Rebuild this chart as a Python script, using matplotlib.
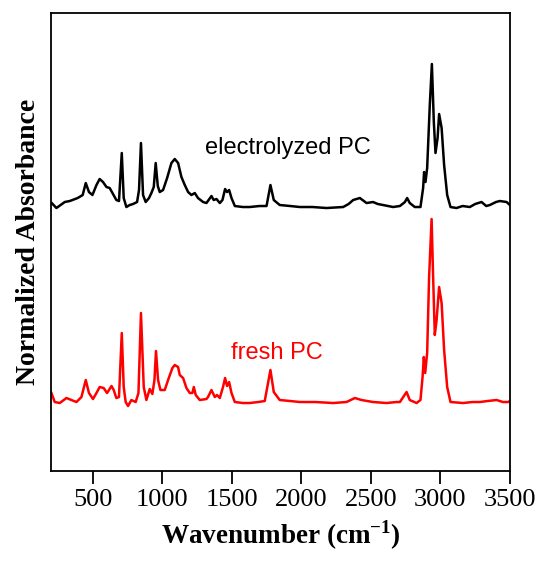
import matplotlib
matplotlib.use("Agg")
import matplotlib.pyplot as plt

# electrolyzed PC (black)
wn_el = [205, 239, 299, 335, 392, 428, 450, 473, 498, 527, 550, 574, 599, 622, 642,
         670, 689, 709, 723, 742, 766, 790, 819, 833, 847, 862, 881, 905, 922, 939,
         953, 968, 982, 1006, 1035, 1066, 1090, 1114, 1138, 1162, 1186, 1210, 1234,
         1257, 1294, 1318, 1354, 1370, 1390, 1414, 1433, 1452, 1466, 1481, 1498, 1522,
         1580, 1629, 1700, 1750, 1778, 1802, 1845, 1920, 1989, 2080, 2181, 2301, 2340,
         2373, 2421, 2469, 2516, 2550, 2588, 2660, 2709, 2745, 2761, 2780, 2816, 2857,
         2876, 2883, 2893, 2905, 2924, 2939, 2953, 2965, 2980, 2991, 3009, 3027, 3049,
         3073, 3116, 3160, 3212, 3250, 3296, 3330, 3356, 3400, 3428, 3476, 3500]
ab_el = [2.68, 2.63, 2.69, 2.70, 2.73, 2.76, 2.88, 2.79, 2.76, 2.86, 2.92, 2.89, 2.84, 2.83, 2.78,
         2.71, 2.70, 3.18, 2.73, 2.64, 2.66, 2.67, 2.69, 2.81, 3.28, 2.76, 2.69, 2.73, 2.78, 2.84,
         3.08, 2.85, 2.79, 2.81, 2.93, 3.08, 3.12, 3.08, 2.94, 2.86, 2.79, 2.76, 2.78,
         2.73, 2.69, 2.68, 2.75, 2.71, 2.72, 2.68, 2.71, 2.82, 2.79, 2.81, 2.73, 2.65,
         2.64, 2.64, 2.65, 2.65, 2.86, 2.71, 2.66, 2.65, 2.64, 2.64, 2.63, 2.64, 2.67,
         2.71, 2.73, 2.68, 2.69, 2.67, 2.66, 2.64, 2.65, 2.69, 2.73, 2.68, 2.64, 2.64,
         2.83, 2.99, 2.89, 3.03, 3.66, 4.07, 3.49, 3.18, 3.33, 3.57, 3.43, 3.06, 2.76,
         2.64, 2.63, 2.65, 2.64, 2.67, 2.69, 2.65, 2.66, 2.69, 2.70, 2.69, 2.66]

# fresh PC (red)
wn_fr = [203, 227, 263, 311, 347, 383, 419, 450, 473, 502, 527, 550, 579, 603, 617,
         635, 651, 670, 689, 709, 723, 737, 754, 778, 809, 829, 847, 867, 886, 910,
         929, 944, 955, 970, 987, 1018, 1042, 1073, 1090, 1114, 1126, 1150, 1174, 1198,
         1217, 1227, 1241, 1270, 1318, 1329, 1354, 1378, 1394, 1414, 1437, 1452, 1466,
         1481, 1498, 1522, 1580, 1629, 1690, 1737, 1778, 1802, 1845, 1920, 1989, 2100,
         2229, 2325, 2385, 2433, 2516, 2613, 2685, 2709, 2757, 2780, 2829, 2857, 2872,
         2881, 2891, 2905, 2919, 2937, 2948, 2960, 2973, 2991, 3009, 3027, 3049, 3073,
         3164, 3230, 3284, 3340, 3404, 3450, 3488, 3500]
ab_fr = [0.78, 0.69, 0.68, 0.73, 0.71, 0.69, 0.74, 0.91, 0.78, 0.72, 0.78, 0.84, 0.83, 0.78, 0.81,
         0.85, 0.81, 0.73, 0.74, 1.38, 0.84, 0.69, 0.65, 0.71, 0.69, 0.78, 1.58, 0.84, 0.71, 0.82,
         0.77, 0.91, 1.20, 0.91, 0.81, 0.81, 0.91, 1.03, 1.06, 1.04, 0.96, 0.93, 0.83, 0.78,
         0.78, 0.84, 0.76, 0.71, 0.72, 0.74, 0.81, 0.74, 0.76, 0.73, 0.84, 0.93, 0.85,
         0.89, 0.78, 0.69, 0.68, 0.68, 0.69, 0.70, 1.01, 0.79, 0.71, 0.70, 0.69, 0.69,
         0.68, 0.69, 0.73, 0.71, 0.69, 0.68, 0.69, 0.69, 0.79, 0.71, 0.68, 0.71, 0.94,
         1.14, 0.98, 1.18, 1.94, 2.52, 1.94, 1.36, 1.51, 1.84, 1.68, 1.21, 0.84, 0.69,
         0.68, 0.69, 0.69, 0.70, 0.71, 0.69, 0.69, 0.70]

XTICKS = [500, 1000, 1500, 2000, 2500, 3000, 3500]

SERIF = "Liberation Serif"
SANS  = "Liberation Sans"

fig = plt.figure(figsize=(5.39, 5.61), dpi=100)
ax = fig.add_axes([0.0946, 0.1604, 0.8514, 0.8164])

ax.plot(wn_el, ab_el, color="black", lw=1.8)
ax.plot(wn_fr, ab_fr, color="#ff0000", lw=1.8)

ax.text(1306, 3.17, "electrolyzed PC", color="black", fontsize=17,
        family=SANS, ha="left", va="baseline")
ax.text(1491, 1.12, "fresh PC", color="#ff0000", fontsize=17,
        family=SANS, ha="left", va="baseline")

ax.set_xlim(200, 3500)
ax.set_ylim(0, 4.58)
ax.set_xticks(XTICKS)
ax.set_xticklabels([str(t) for t in XTICKS], family=SERIF, fontsize=19)
ax.set_yticks([])
ax.tick_params(axis="x", direction="out", length=9, width=1.3, pad=4, top=False)
for sp in ax.spines.values():
    sp.set_linewidth(1.3)

ax.set_xlabel("Wavenumber (cm$^{\\mathregular{-1}}$)", family=SERIF, fontsize=19.5,
              fontweight="bold", labelpad=5)
ax.set_ylabel("Normalized Absorbance", family=SERIF, fontsize=20,
              fontweight="bold", labelpad=7)

fig.savefig("out.png", dpi=100)
